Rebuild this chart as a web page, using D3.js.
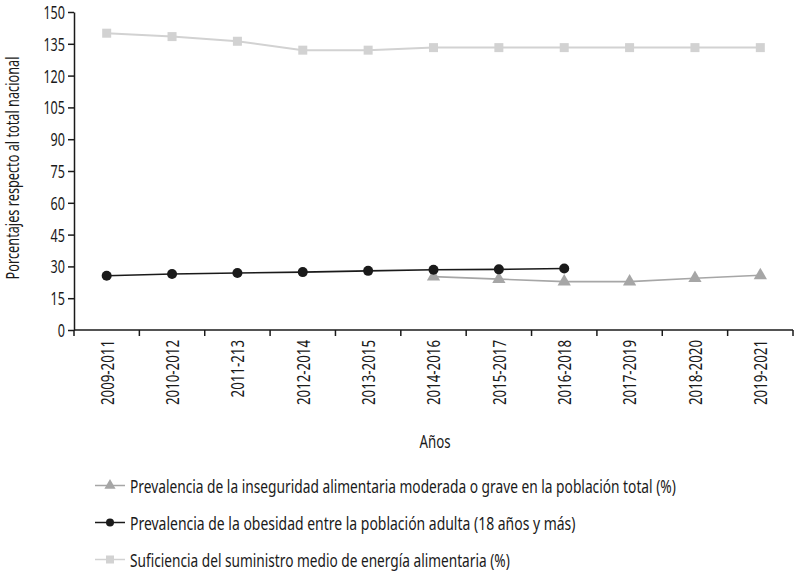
<!DOCTYPE html>
<html>
<head>
<meta charset="utf-8">
<script src="https://cdn.jsdelivr.net/npm/d3@7"></script>
<style>
  body { margin: 0; background: #fff; }
  text { font-family: "Noto Sans", sans-serif; fill: #1a1a1a; }
</style>
</head>
<body>
<div id="chart"></div>
<script>
// periods on the x axis
const periods = ["2009-2011", "2010-2012", "2011-213", "2012-2014", "2013-2015", "2014-2016",
  "2015-2017", "2016-2018", "2017-2019", "2018-2020", "2019-2021"];

// series values (null = no data)
const inseguridad = [null, null, null, null, null, 25.2, 24.0, 22.8, 22.8, 24.4, 25.8];
const obesidad = [25.6, 26.4, 26.9, 27.3, 27.9, 28.4, 28.6, 29.0, null, null, null];
const suficiencia = [140, 138.4, 136.2, 132, 132, 133.2, 133.2, 133.2, 133.2, 133.2, 133.2];

const yTicks = [0, 15, 30, 45, 60, 75, 90, 105, 120, 135, 150];

const legendLabels = [
  "Prevalencia de la inseguridad alimentaria moderada o grave en la población total (%)",
  "Prevalencia de la obesidad entre la población adulta (18 años y más)",
  "Suficiencia del suministro medio de energía alimentaria (%)"
];

const width = 794, height = 573;
const squeeze = 0.7; // the source uses a condensed face
const svg = d3.select("#chart").append("svg")
  .attr("width", width)
  .attr("height", height);

const x = d3.scaleBand().domain(periods).range([74, 793]);
const y = d3.scaleLinear().domain([0, 150]).range([330, 12]);

// text placed at (tx, ty), rotated, and narrowed so that it reads like a condensed face
function condensedText(parent, tx, ty, str, opts = {}) {
  const t = parent.append("text")
    .attr("text-anchor", opts.anchor || "start")
    .style("font-size", (opts.size || 19) + "px")
    .text(str);
  if (opts.dy) t.attr("dy", opts.dy);
  let sx = squeeze;
  if (opts.len) sx = opts.len / t.node().getComputedTextLength();
  t.attr("transform", `translate(${tx},${ty}) rotate(${opts.rotate || 0}) scale(${sx},1)`);
  return t;
}

// y axis
const yAxis = svg.append("g")
  .attr("transform", "translate(74,0)")
  .call(d3.axisLeft(y).tickValues(yTicks).tickSize(6).tickSizeOuter(0));
yAxis.select(".domain").attr("stroke", "#1a1a1a").attr("stroke-width", 1.5);
yAxis.selectAll(".tick line").attr("stroke", "#1a1a1a").attr("stroke-width", 1.5);
yAxis.selectAll(".tick text").remove();
yAxis.selectAll(".tick").each(function (d) {
  condensedText(d3.select(this), -9, 0, d, { anchor: "end", dy: "0.36em", size: 18 });
});

// x axis: line, ticks at band boundaries, rotated labels at centers
const xg = svg.append("g");
xg.append("line")
  .attr("x1", x.range()[0]).attr("x2", x.range()[1])
  .attr("y1", y(0)).attr("y2", y(0))
  .attr("stroke", "#1a1a1a").attr("stroke-width", 1.5);
const bounds = periods.map(d => x(d)).concat([x.range()[1]]);
xg.selectAll(".xtick").data(bounds).join("line")
  .attr("class", "xtick")
  .attr("x1", d => d).attr("x2", d => d)
  .attr("y1", y(0)).attr("y2", y(0) + 6)
  .attr("stroke", "#1a1a1a").attr("stroke-width", 1.5);
periods.forEach(p => {
  condensedText(xg, x(p) + x.bandwidth() / 2, y(0) + 10, p,
    { anchor: "end", rotate: -90, dy: "0.36em", size: 19 });
});

// axis titles
condensedText(svg, 435, 448, "Años", { anchor: "middle", size: 19 });
condensedText(svg, 19, 168, "Porcentajes respecto al total nacional",
  { anchor: "middle", rotate: -90, size: 18, len: 223 });

// series
const series = [
  { values: suficiencia, color: "#d2d2d2", lineW: 2, shape: "square" },
  { values: inseguridad, color: "#a6a6a6", lineW: 1.6, shape: "triangle" },
  { values: obesidad, color: "#1a1a1a", lineW: 1.6, shape: "circle" }
];

const cx = i => x(periods[i]) + x.bandwidth() / 2;

function marker(g, shape, color, size) {
  if (shape === "circle") {
    g.append("circle").attr("r", size / 2).attr("fill", color);
  } else if (shape === "square") {
    g.append("rect").attr("x", -size / 2).attr("y", -size / 2)
      .attr("width", size).attr("height", size).attr("fill", color);
  } else {
    g.append("path").attr("d", d3.symbol(d3.symbolTriangle, size * size * 0.45)()).attr("fill", color);
  }
}

const line = d3.line()
  .defined(d => d != null)
  .x((d, i) => cx(i))
  .y(d => y(d));

series.forEach(s => {
  svg.append("path")
    .datum(s.values)
    .attr("d", line)
    .attr("fill", "none")
    .attr("stroke", s.color)
    .attr("stroke-width", s.lineW);
  s.values.forEach((v, i) => {
    if (v == null) return;
    const g = svg.append("g").attr("transform", `translate(${cx(i)},${y(v)})`);
    const sz = s.shape === "circle" ? 10 : s.shape === "square" ? 9 : 13;
    marker(g, s.shape, s.color, sz);
  });
});

// legend
const legendOrder = [series[1], series[2], series[0]];
const legendLens = [546, 446, 380];
legendOrder.forEach((s, i) => {
  const ly = 485.5 + i * 37;
  const g = svg.append("g").attr("transform", `translate(0,${ly})`);
  g.append("line").attr("x1", 95).attr("x2", 125).attr("y1", 0).attr("y2", 0)
    .attr("stroke", s.color).attr("stroke-width", 1.5);
  const m = g.append("g").attr("transform", "translate(110,0)");
  marker(m, s.shape, s.color, s.shape === "circle" ? 8 : s.shape === "square" ? 8 : 11);
  condensedText(g, 130, 7, legendLabels[i], { size: 19, len: legendLens[i] });
});
</script>
</body>
</html>
